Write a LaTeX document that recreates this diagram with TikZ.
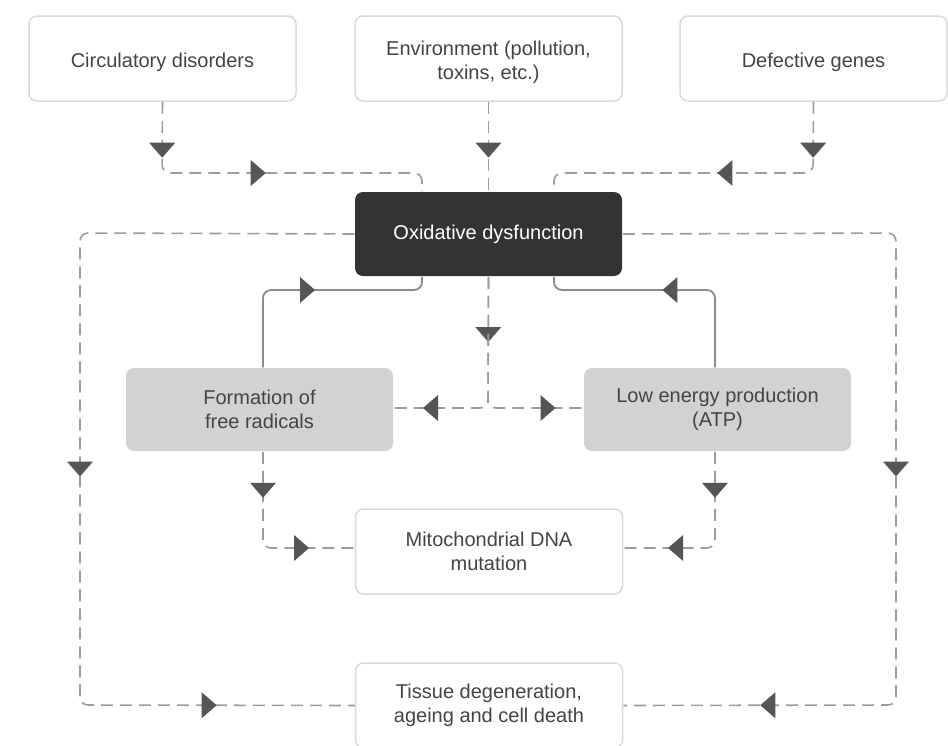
\documentclass[tikz,border=0pt]{standalone}
\usepackage{fontspec}
\setmainfont{Liberation Sans}
\definecolor{lnc}{HTML}{9C9C9C}
\definecolor{slc}{HTML}{8C8C8C}
\definecolor{arc}{HTML}{555555}
\definecolor{bdc}{HTML}{DADADA}
\definecolor{gfill}{HTML}{D1D2D4}
\definecolor{dfill}{HTML}{333333}
\definecolor{txt}{HTML}{444444}
\newcommand{\lowerby}{\rule{0pt}{22pt}}
\tikzset{
  pics/triD/.style={code={\fill[arc,solid,sharp corners] (0,-7.5pt) -- (-13pt,7.5pt) -- (13pt,7.5pt) -- cycle;}},
  pics/triR/.style={code={\fill[arc,solid,sharp corners] (7.5pt,0) -- (-7.5pt,13pt) -- (-7.5pt,-13pt) -- cycle;}},
  pics/triL/.style={code={\fill[arc,solid,sharp corners] (-7.5pt,0) -- (7.5pt,13pt) -- (7.5pt,-13pt) -- cycle;}},
  box/.style={draw=bdc, line width=1.5pt, rounded corners=8pt, fill=white,
    minimum width=267pt, minimum height=85pt, align=center, text=txt,
    font=\fontsize{20}{24}\selectfont, inner sep=0pt},
  graybox/.style={box, draw=none, fill=gfill, minimum height=83pt},
  darkbox/.style={box, draw=none, fill=dfill, text=white, minimum height=84pt},
  dline/.style={draw=lnc, line width=1.6pt, dash pattern=on 12pt off 7pt, rounded corners=8pt},
  sline/.style={draw=slc, line width=1.8pt, rounded corners=8pt},
}
\begin{document}
\begin{tikzpicture}[x=1pt,y=-1pt]
\useasboundingbox[fill=white] (0,0) rectangle (948,745);

\node[box] (circ) at (162.5,58.5) {\lowerby Circulatory disorders};
\node[box] (env) at (488.5,58.5) {\lowerby Environment (pollution,\\toxins, etc.)};
\node[box] (gene) at (813.5,58.5) {\lowerby Defective genes};
\node[darkbox] (oxi) at (488.5,234) {Oxidative dysfunction};
\node[graybox] (free) at (259.5,409.5) {Formation of\\free radicals};
\node[graybox] (low) at (717.5,409.5) {Low energy production\\(ATP)};
\node[box] (mito) at (489,551.5) {Mitochondrial DNA\\mutation};
\node[box] (tis) at (489,705.5) {Tissue degeneration,\\ageing and cell death};

% inputs to oxidative dysfunction
\draw[dline] (circ.south) -- pic[pos=.68,in front of path]{triD} (162,173)
  -- pic[pos=.37,in front of path]{triR} (422,173) -- (422,173 |- oxi.north);
\draw[dline] (env.south) -- pic[pos=.54,in front of path]{triD} (oxi.north);
\draw[dline] (gene.south) -- pic[pos=.68,in front of path]{triD} (813,173)
  -- pic[pos=.34,in front of path]{triL} (554,173) -- (554,173 |- oxi.north);

% outer loops to tissue degeneration
\draw[dline] (oxi.west) -- (80,233) -- pic[pos=.5,in front of path]{triD} (80,705)
  -- pic[pos=.47,in front of path]{triR} (tis.west);
\draw[dline] (oxi.east) -- (896,233) -- pic[pos=.5,in front of path]{triD} (896,705)
  -- pic[pos=.47,in front of path]{triL} (tis.east);

% feedback (solid)
\draw[sline] (263,0 |- free.north) -- (263,290) -- pic[pos=.28,in front of path]{triR} (422,290)
  -- (422,290 |- oxi.south);
\draw[sline] (715,0 |- low.north) -- (715,290) -- pic[pos=.28,in front of path]{triL} (554,290)
  -- (554,290 |- oxi.south);

% oxidative -> free radicals / low energy
\draw[dline] (oxi.south) -- pic[pos=.44,in front of path]{triD} (488,408)
  -- pic[pos=.61,in front of path]{triL} (free.east |- 0,408);
\draw[dline] (oxi.south) -- (488,408)
  -- pic[pos=.63,in front of path]{triR} (low.west |- 0,408);

% to mitochondrial DNA mutation
\draw[dline] (263,0 |- free.south) -- pic[pos=.40,in front of path]{triD} (263,548)
  -- pic[pos=.42,in front of path]{triR} (mito.west |- 0,548);
\draw[dline] (715,0 |- low.south) -- pic[pos=.40,in front of path]{triD} (715,548)
  -- pic[pos=.43,in front of path]{triL} (mito.east |- 0,548);
\end{tikzpicture}
\end{document}
